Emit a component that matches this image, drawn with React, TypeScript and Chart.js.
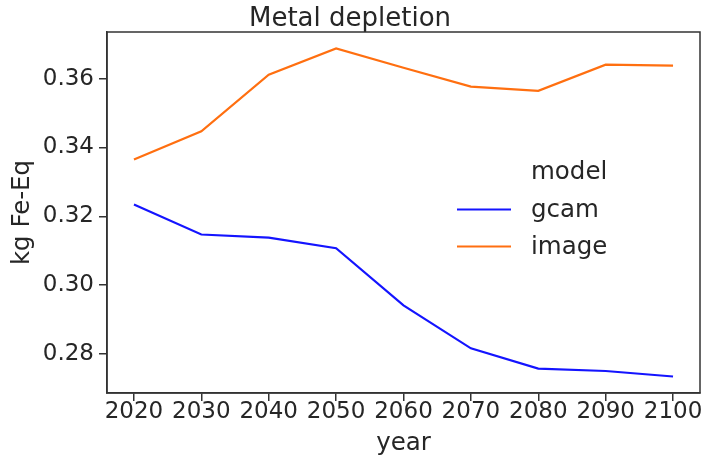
import React, { useEffect, useRef } from "react";
import { Chart, registerables } from "chart.js";

Chart.register(...registerables);

// Metal depletion per scenario year, by model
const years = [2020, 2030, 2040, 2050, 2060, 2070, 2080, 2090, 2100];
const gcam = [0.3234, 0.3147, 0.3138, 0.3107, 0.2941, 0.2816, 0.2757, 0.275, 0.2734];
const image = [0.3365, 0.3447, 0.3612, 0.3688, 0.3632, 0.3577, 0.3565, 0.3641, 0.3638];
const yTicks = [0.28, 0.3, 0.32, 0.34, 0.36];
const seriesNames = ["gcam", "image"];
const seriesColors = ["#1414ff", "#ff6f10"];
const legendTitle = "model";

const FONT = "'DejaVu Sans', sans-serif";
const INK = "#262626";
const AXIS = "#333333";

const frameAndLegend = {
  id: "frameAndLegend",
  afterDraw(chart: any) {
    const { ctx, chartArea } = chart;
    const { left, top, right, bottom } = chartArea;
    ctx.save();
    // full box around the plotting area
    ctx.strokeStyle = AXIS;
    ctx.lineWidth = 1.5;
    ctx.strokeRect(left, top, right - left, bottom - top);

    // legend without frame, placed inside the plot
    ctx.font = `24.5px ${FONT}`;
    ctx.textBaseline = "alphabetic";
    ctx.textAlign = "left";
    ctx.fillStyle = INK;
    const textX = right - 169;
    ctx.fillText(legendTitle, textX, top + 147);
    chart.data.datasets.forEach((ds: any, i: number) => {
      const base = top + 185 + i * 37;
      ctx.strokeStyle = ds.borderColor;
      ctx.lineWidth = ds.borderWidth;
      ctx.beginPath();
      ctx.moveTo(right - 243, base - 7.5);
      ctx.lineTo(right - 189, base - 7.5);
      ctx.stroke();
      ctx.fillStyle = INK;
      ctx.fillText(ds.label, textX, base);
    });
    ctx.restore();
  },
};

export default function App() {
  const canvasRef = useRef<HTMLCanvasElement | null>(null);

  useEffect(() => {
    document.body.style.margin = "0";
    const canvas = canvasRef.current;
    if (!canvas) return;
    const seriesValues = [gcam, image];
    const chart = new Chart(canvas, {
      type: "line",
      data: {
        datasets: seriesNames.map((name, i) => ({
          label: name,
          data: years.map((yr, j) => ({ x: yr, y: seriesValues[i][j] })),
          borderColor: seriesColors[i],
          backgroundColor: seriesColors[i],
          borderWidth: 2.2,
          pointRadius: 0,
          tension: 0,
          fill: false,
        })),
      },
      options: {
        animation: false,
        responsive: false,
        devicePixelRatio: 1,
        layout: { padding: { top: 0, right: 6, bottom: 0, left: 0 } },
        plugins: {
          legend: { display: false },
          tooltip: { enabled: false },
          title: {
            display: true,
            text: "Metal depletion",
            color: INK,
            font: { family: FONT, size: 26, weight: "normal", lineHeight: 1 },
            padding: { top: 6, bottom: 0 },
          },
        },
        scales: {
          x: {
            type: "linear",
            min: 2016,
            max: 2104,
            afterBuildTicks: (scale: any) => {
              scale.ticks = years.map((v) => ({ value: v }));
            },
            afterFit: (scale: any) => {
              scale.height = 66;
            },
            grid: {
              drawOnChartArea: false,
              drawTicks: true,
              tickLength: 8,
              color: AXIS,
              lineWidth: 1.5,
            },
            border: { display: true, color: AXIS, width: 1.5 },
            ticks: {
              color: INK,
              font: { family: FONT, size: 23 },
              padding: -3,
              maxRotation: 0,
              autoSkip: false,
              callback: (v: any) => String(v),
            },
            title: {
              display: true,
              text: "year",
              color: INK,
              font: { family: FONT, size: 24.5 },
              padding: { top: 0, bottom: 1 },
            },
          },
          y: {
            type: "linear",
            min: 0.2686,
            max: 0.3736,
            afterBuildTicks: (scale: any) => {
              scale.ticks = yTicks.map((v) => ({ value: v }));
            },
            afterFit: (scale: any) => {
              scale.width = 107;
            },
            grid: {
              drawOnChartArea: false,
              drawTicks: true,
              tickLength: 8,
              color: AXIS,
              lineWidth: 1.5,
            },
            border: { display: true, color: AXIS, width: 1.5 },
            ticks: {
              color: INK,
              font: { family: FONT, size: 23 },
              padding: 5,
              autoSkip: false,
              callback: (v: any) => Number(v).toFixed(2),
            },
            title: {
              display: true,
              text: "kg Fe-Eq",
              color: INK,
              font: { family: FONT, size: 24.5 },
              padding: { top: 8, bottom: 0 },
            },
          },
        },
      },
      plugins: [frameAndLegend],
    });
    return () => chart.destroy();
  }, []);

  return (
    <div style={{ width: 706, height: 459 }}>
      <canvas ref={canvasRef} width={706} height={459} style={{ display: "block" }} />
    </div>
  );
}
